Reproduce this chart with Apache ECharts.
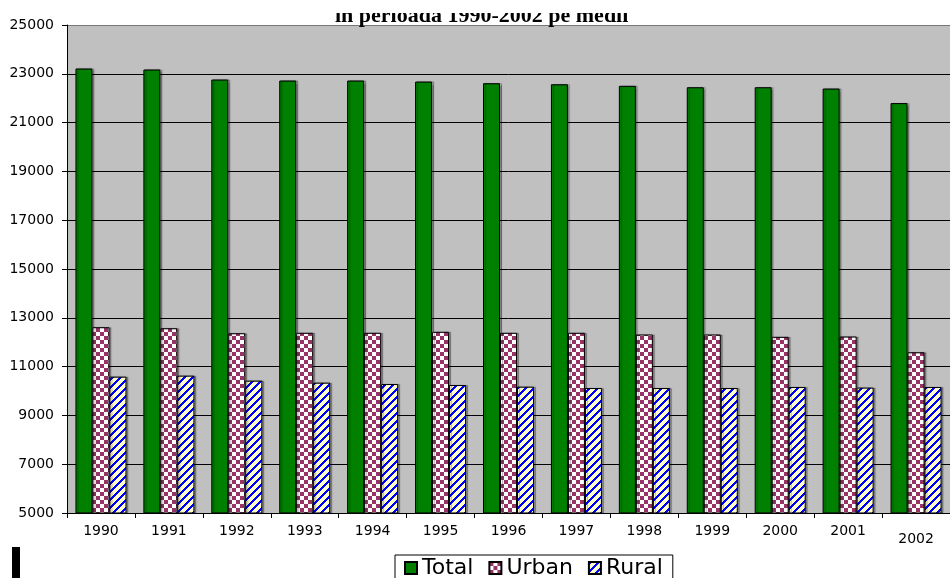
<!DOCTYPE html>
<html>
<head>
<meta charset="utf-8">
<script src="https://cdn.jsdelivr.net/npm/echarts@6/dist/echarts.min.js"></script>
<style>
  html, body { margin: 0; padding: 0; background: #fff; }
</style>
</head>
<body>
<div id="main" style="width: 950px; height: 578px;"></div>
<script>
// data
const years = ['1990', '1991', '1992', '1993', '1994', '1995', '1996', '1997', '1998', '1999', '2000', '2001', '2002'];
const total = [23218, 23177, 22766, 22725, 22725, 22683, 22614, 22572, 22507, 22450, 22450, 22396, 21800];
const urban = [12614, 12573, 12368, 12385, 12385, 12426, 12385, 12385, 12315, 12315, 12220, 12233, 11588];
const rural = [10589, 10630, 10425, 10342, 10287, 10246, 10178, 10123, 10123, 10123, 10165, 10140, 10165];
const seriesNames = ['Total', 'Urban', 'Rural'];
const titleText = 'in perioada 1990-2002 pe medii';

// small pixel patterns for the hatched bars
function makePattern(size, paint) {
    let c = document.createElement('canvas');
    c.width = size;
    c.height = size;
    let ctx = c.getContext('2d');
    let img = ctx.createImageData(size, size);
    for (let y = 0; y < size; y++) {
        for (let x = 0; x < size; x++) {
            let rgb = paint(x, y);
            let i = (y * size + x) * 4;
            img.data[i] = rgb[0];
            img.data[i + 1] = rgb[1];
            img.data[i + 2] = rgb[2];
            img.data[i + 3] = 255;
        }
    }
    ctx.putImageData(img, 0, 0);
    return c;
}

const checker = makePattern(8, (x, y) => {
    let on = (Math.floor(x / 4) + Math.floor(y / 4)) % 2 === 0;
    return on ? [0x99, 0x33, 0x66] : [255, 255, 255];
});
const stripes = makePattern(8, (x, y) => {
    return (x + y) % 8 < 3 ? [0, 0, 255] : [255, 255, 0xcc];
});

let chartDom = document.getElementById('main');
let myChart = echarts.init(chartDom, null, { renderer: 'canvas' });

const barStyle = {
    borderColor: '#000',
    borderWidth: 1,
    shadowColor: 'rgba(0,0,0,0.3)',
    shadowOffsetX: 2,
    shadowOffsetY: 0,
    shadowBlur: 1
};

let option = {
    animation: false,
    textStyle: { fontFamily: 'DejaVu Sans' },
    title: {
        text: titleText,
        left: 335,
        top: 5,
        padding: 0,
        textStyle: {
            fontFamily: 'Liberation Serif',
            fontWeight: 'bold',
            fontSize: 22,
            color: '#000'
        }
    },
    legend: {
        data: seriesNames,
        left: 395,
        top: 555,
        padding: [2, 10, 6, 9],
        itemGap: 15,
        itemWidth: 12,
        itemHeight: 12,
        icon: 'rect',
        borderColor: '#000',
        borderWidth: 1,
        backgroundColor: '#fff',
        textStyle: { fontFamily: 'DejaVu Sans', fontSize: 22, color: '#000' }
    },
    grid: {
        left: 67,
        top: 25,
        width: 891,
        height: 488,
        show: true,
        backgroundColor: '#C0C0C0',
        borderWidth: 0,
        containLabel: false
    },
    xAxis: {
        type: 'category',
        data: years,
        axisLine: { lineStyle: { color: '#000', width: 1 } },
        axisTick: { show: true, length: 5, interval: 0, lineStyle: { color: '#000' } },
        axisLabel: {
            interval: 0,
            margin: 11,
            color: '#000',
            fontSize: 14,
            fontFamily: 'DejaVu Sans',
            formatter: function (v) {
                return v === '2002' ? '{last|' + v + '}' : v;
            },
            rich: {
                last: { fontSize: 14, fontFamily: 'DejaVu Sans', color: '#000', padding: [8, 0, 0, 0] }
            }
        },
        splitLine: { show: false }
    },
    yAxis: {
        type: 'value',
        min: 5000,
        max: 25000,
        interval: 2000,
        axisLine: { show: true, lineStyle: { color: '#000', width: 1 } },
        axisTick: { show: true, length: 5, lineStyle: { color: '#000' } },
        axisLabel: {
            margin: 13,
            color: '#000',
            fontSize: 14,
            fontFamily: 'DejaVu Sans',
            formatter: function (v) { return String(v); }
        },
        splitLine: {
            show: true,
            lineStyle: {
                color: ['#000', '#000', '#000', '#000', '#000', '#000', '#000', '#000', '#000', '#000', '#777'],
                width: 1
            }
        }
    },
    series: [
        {
            name: seriesNames[0],
            type: 'bar',
            data: total,
            barWidth: 17,
            barGap: '0%',
            itemStyle: Object.assign({ color: '#008000' }, barStyle)
        },
        {
            name: seriesNames[1],
            type: 'bar',
            data: urban,
            barWidth: 17,
            barGap: '0%',
            itemStyle: Object.assign({ color: { image: checker, repeat: 'repeat' } }, barStyle)
        },
        {
            name: seriesNames[2],
            type: 'bar',
            data: rural,
            barWidth: 17,
            barGap: '0%',
            itemStyle: Object.assign({ color: { image: stripes, repeat: 'repeat' } }, barStyle)
        }
    ],
    graphic: [
        {
            // the top of the title is cut off in the original
            type: 'rect',
            z: 100,
            shape: { x: 0, y: 0, width: 950, height: 13 },
            style: { fill: '#fff' }
        },
        {
            type: 'rect',
            z: 100,
            shape: { x: 12, y: 547, width: 8, height: 31 },
            style: { fill: '#000' }
        }
    ]
};

option && myChart.setOption(option);
</script>
</body>
</html>
